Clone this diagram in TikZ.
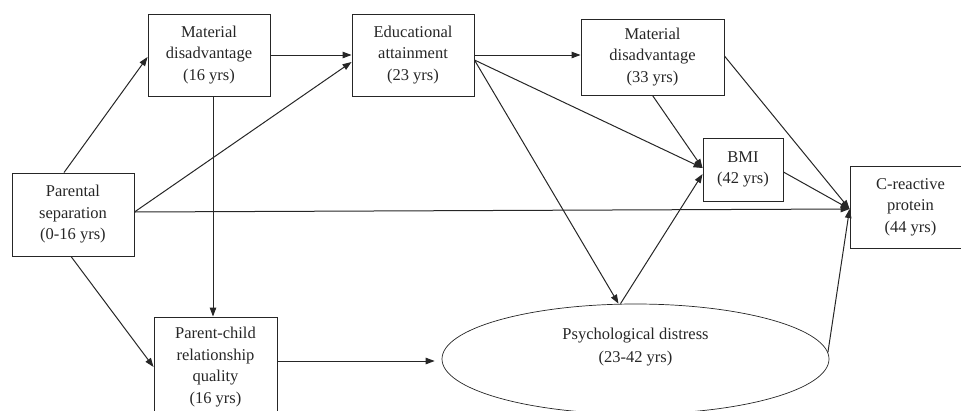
\documentclass[tikz,border=0pt]{standalone}
\usepackage{fontspec}
\setmainfont{Liberation Serif}
\usetikzlibrary{arrows.meta,shapes.geometric,calc}
\definecolor{ink}{HTML}{262626}
\begin{document}
\begin{tikzpicture}[x=1pt,y=-1pt,
  every node/.style={text=ink},
  txt/.style={font=\fontsize{16.5}{21.5}\selectfont, align=center, inner sep=0pt},
  box/.style={txt, draw=ink, line width=0.9pt, minimum width=#1},
  box/.default=122pt,
  arr/.style={draw=ink, line width=1pt, -{Triangle[length=9pt,width=6.5pt]}}]
\useasboundingbox (0,0) rectangle (961,410);
\node[box, minimum height=83pt] (ps) at (73,214.5) {Parental\\separation\\(0-16 yrs)};
\node[box, minimum height=82pt] (md16) at (209,55) {Material\\disadvantage\\(16 yrs)};
\node[box, minimum height=82pt] (edu) at (413,55) {Educational\\attainment\\(23 yrs)};
\node[box=143pt, minimum height=76pt] (md33) at (652.5,57) {Material\\disadvantage\\(33 yrs)};
\node[box=80pt, minimum height=63pt] (bmi) at (743,169.5) {BMI\\(42 yrs)};
\node[box=121pt, minimum height=82pt] (crp) at (910.5,207) {C-reactive\\protein\\(44 yrs)};
\node[box=123pt, minimum height=100pt] (pc) at (215.5,367) {Parent-child\\relationship\\quality\\(16 yrs)};
\node[ellipse, draw=ink, line width=0.7pt, minimum width=387pt, minimum height=110pt, inner sep=0pt] (pd) at (635.5,359) {};
\node[txt, font=\fontsize{16.5}{23.5}\selectfont] (pdt) at (635.5,347) {Psychological distress\\(23-42 yrs)};
\coordinate (crpin) at ([yshift=-2pt]crp.west);
% connectors
\draw[arr] ([xshift=-9pt]ps.north) -- ([yshift=-2pt]md16.west);
\draw[arr] ([yshift=2.5pt]ps.east) -- ([yshift=-7pt]edu.west);
\draw[arr] ([yshift=2.5pt]ps.east) -- (crpin);
\draw[arr] ([xshift=-2pt]ps.south) -- (pc.west);
\draw[arr] (md16.east) -- (md16.east -| edu.west);
\draw[arr] ([xshift=4pt]md16.south) coordinate (mds) -- (mds |- pc.north);
\draw[arr, shorten >=7pt] ([yshift=6pt]pc.east) coordinate (pce) -- (pce -| pd.west);
\draw[arr] (edu.east) -- (edu.east -| md33.west);
\draw[arr] ([yshift=-5pt]edu.east) -- ([yshift=1.5pt]bmi.west);
\draw[arr] ([yshift=-5pt]edu.east) -- ([xshift=-17pt]pd.north);
\draw[arr] (md33.south) -- ([yshift=1.5pt]bmi.west);
\draw[arr] ([xshift=-15pt]pd.north) -- ([yshift=-4.5pt]bmi.west);
\draw[arr] ([yshift=1pt]md33.east) -- (crpin);
\draw[arr] ([yshift=-2.5pt]bmi.east) -- (crpin);
\draw[arr] (pd.2) -- (crpin);
\end{tikzpicture}
\end{document}
